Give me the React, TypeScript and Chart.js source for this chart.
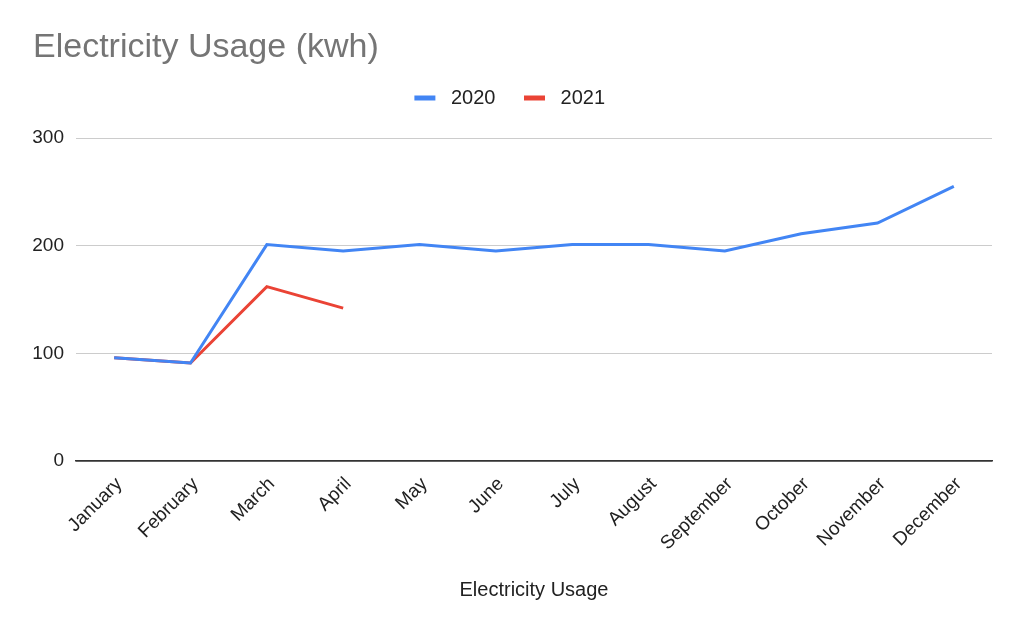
import React, { useEffect, useRef } from "react";
import { Chart, registerables } from "chart.js";

Chart.register(...registerables);

const months = [
  "January", "February", "March", "April", "May", "June",
  "July", "August", "September", "October", "November", "December",
];
const usage2020 = [96, 91, 201, 195, 201, 195, 201, 201, 195, 211, 221, 255];
const usage2021 = [96, 91, 162, 142, null, null, null, null, null, null, null, null];
const yTicks = [0, 100, 200, 300];

const FONT = "'Liberation Sans', Arial, sans-serif";

export default function App() {
  const ref = useRef<HTMLCanvasElement | null>(null);

  useEffect(() => {
    if (!ref.current) return;
    const legendSpacer = {
      id: "legendSpacer",
      beforeLayout(chart: any) {
        const lg = chart.legend;
        if (lg && !lg._patched) {
          const orig = lg.fit;
          lg.fit = function () {
            orig.call(this);
            this.height += 20;
          };
          lg._patched = true;
        }
      },
    };
    const chart = new Chart(ref.current, {
      type: "line",
      data: {
        labels: months,
        datasets: [
          {
            label: "2020",
            data: usage2020,
            borderColor: "#4285F4",
            backgroundColor: "#4285F4",
            borderWidth: 3,
            pointRadius: 0,
            tension: 0,
          },
          {
            label: "2021",
            data: usage2021,
            borderColor: "#EA4335",
            backgroundColor: "#EA4335",
            borderWidth: 3,
            pointRadius: 0,
            tension: 0,
            spanGaps: false,
          },
        ],
      },
      options: {
        animation: false,
        responsive: false,
        devicePixelRatio: 1,
        layout: { padding: { left: 33, right: 32, top: 0, bottom: 0 } },
        plugins: {
          tooltip: { enabled: false },
          title: {
            display: true,
            text: "Electricity Usage (kwh)",
            align: "start",
            color: "#757575",
            font: { family: FONT, size: 34, weight: "normal", lineHeight: 1 },
            padding: { top: 31, bottom: 0 },
          },
          legend: {
            display: true,
            position: "top",
            align: "center",
            labels: {
              color: "#222222",
              font: { family: FONT, size: 20 },
              boxWidth: 21,
              boxHeight: 5,
              padding: 23,
              generateLabels(chart: any) {
                const items = Chart.defaults.plugins.legend.labels.generateLabels(chart);
                return items.map((it: any) => ({ ...it, text: " " + it.text + " ", lineWidth: 0 }));
              },
            },
          },
        },
        scales: {
          x: {
            offset: true,
            grid: { display: false, drawTicks: false },
            border: { display: true, color: "#333333", width: 1.5 },
            ticks: {
              color: "#222222",
              font: { family: FONT, size: 19 },
              minRotation: 45,
              maxRotation: 45,
              autoSkip: false,
              padding: 12,
              labelOffset: 5,
            },
            title: {
              display: true,
              text: "Electricity Usage",
              color: "#222222",
              font: { family: FONT, size: 20 },
              padding: { top: 4, bottom: 31 },
            },
            afterFit(scale: any) {
              scale.height = 172;
            },
          },
          y: {
            min: 0,
            max: 300,
            border: { display: false },
            grid: {
              drawTicks: false,
              color: (ctx: any) => (ctx.tick && ctx.tick.value === 0 ? "#333333" : "#cccccc"),
              lineWidth: (ctx: any) => (ctx.tick && ctx.tick.value === 0 ? 1.5 : 1),
            },
            afterBuildTicks(scale: any) {
              scale.ticks = yTicks.map((v) => ({ value: v }));
            },
            ticks: {
              color: "#222222",
              font: { family: FONT, size: 19 },
              padding: 12,
            },
            afterFit(scale: any) {
              scale.width = 43;
            },
          },
        },
      },
      plugins: [legendSpacer],
    });
    return () => chart.destroy();
  }, []);

  return (
    <div style={{ position: "absolute", left: 0, top: 0, width: 1024, height: 633, background: "#fff" }}>
      <canvas ref={ref} width={1024} height={633} style={{ width: 1024, height: 633 }} />
    </div>
  );
}
